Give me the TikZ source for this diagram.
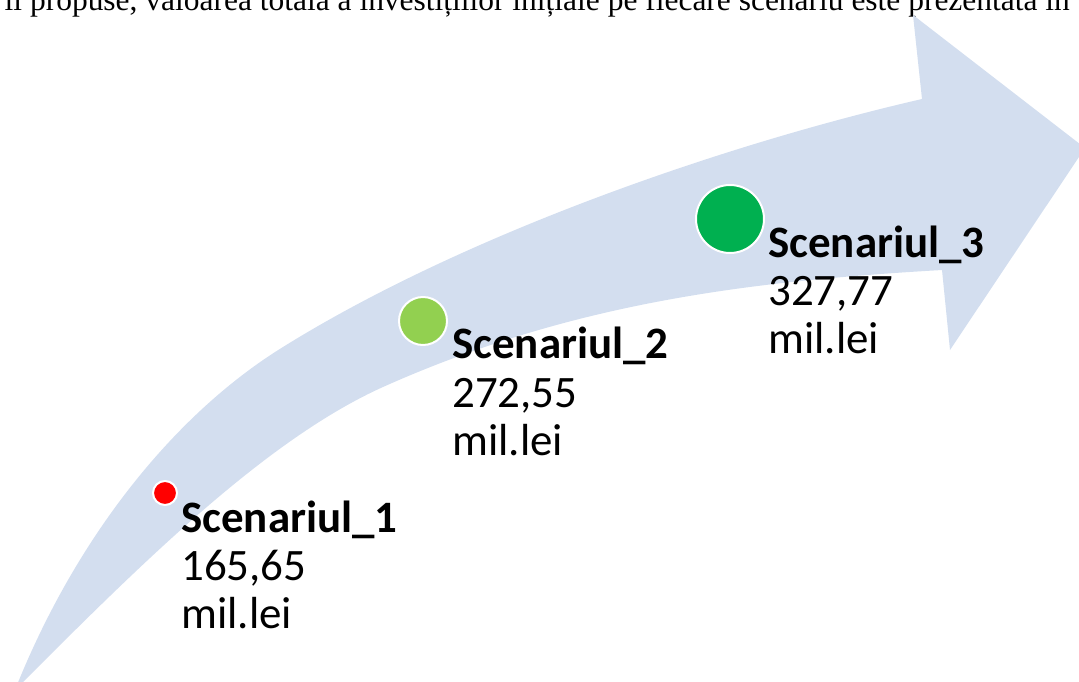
\documentclass[tikz,border=0pt]{standalone}
\usepackage{fontspec}
\setmainfont{Carlito}
\newfontfamily\serifdoc{Liberation Serif}
\definecolor{band}{RGB}{211,222,239}
\definecolor{redpt}{RGB}{255,0,0}
\definecolor{lgreen}{RGB}{146,208,80}
\definecolor{dgreen}{RGB}{0,176,80}
\tikzset{
  dot/.style={circle, draw=white, line width=1.5pt, inner sep=0pt},
  ttl/.style={anchor=base west, inner sep=0pt, font=\fontsize{33.7}{40}\selectfont\bfseries},
  val/.style={anchor=base west, inner sep=0pt, font=\fontsize{33.7}{40}\selectfont},
}
\begin{document}
\begin{tikzpicture}[x=0.75pt,y=-0.75pt]
\useasboundingbox (0,0) rectangle (1079,682);
\clip (0,0) rectangle (1079,682);
% top line of running text (cut off)
\node[anchor=base east, inner sep=0pt, font=\serifdoc\fontsize{23.6}{28}\selectfont] (doc) at (1070,10)
  {ii propuse, valoarea totală a investițiilor inițiale pe fiecare scenariu este prezentată în};
% curved arrow
\fill[band] (15,690) .. controls (75,539) and (173,415) .. (283,347)
  .. controls (463,235) and (722,145) .. (922,99)
  -- (913,15) -- (1085,148) -- (950,350) -- (942,270)
  .. controls (752,281) and (573,302) .. (383,387)
  .. controls (263,441) and (135,570) .. (15,690)
  -- cycle;
% dots
\node[dot, fill=redpt, minimum size=18pt] (c1) at (165,493) {};
\node[dot, fill=lgreen, minimum size=36pt] (c2) at (423,321) {};
\node[dot, fill=dgreen, minimum size=51pt] (c3) at (730,219) {};
% labels
\node[ttl] (t1) at (181,532) {Scenariul\_1};
\node[val] (v1) at (181,580) {165,65};
\node[val] (u1) at (181,628) {mil.lei};
\node[ttl] (t2) at (452,358) {Scenariul\_2};
\node[val] (v2) at (452,407) {272,55};
\node[val] (u2) at (452,455) {mil.lei};
\node[ttl] (t3) at (768,257) {Scenariul\_3};
\node[val] (v3) at (768,305) {327,77};
\node[val] (u3) at (768,353) {mil.lei};
\end{tikzpicture}
\end{document}
